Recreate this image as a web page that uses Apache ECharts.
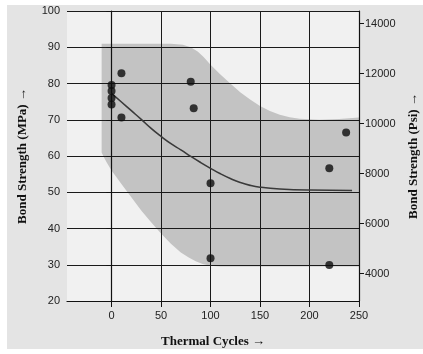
<!DOCTYPE html>
<html>
<head>
<meta charset="utf-8">
<script src="https://cdn.jsdelivr.net/npm/echarts@6/dist/echarts.min.js"></script>
<style>
  html, body { margin: 0; padding: 0; background: #ffffff; }
  #chart { width: 423px; height: 354px; }
</style>
</head>
<body>
<div id="chart"></div>
<script>
// ---- data ----
const xTicks = [0, 50, 100, 150, 200, 250];
const psiTicks = [4000, 6000, 8000, 10000, 12000, 14000];
const MPA_TO_PSI = 145.038;

// measured points: [thermal cycles, bond strength MPa]
const pointCycles = [0, 0, 0, 0, 10, 10, 80, 83, 100, 100, 220, 220, 237];
const pointMPa    = [79.6, 77.9, 76.0, 74.2, 82.8, 70.6, 80.5, 73.2, 52.5, 31.8, 56.6, 29.9, 66.5];

// fitted trend curve
const curveCycles = [0, 10, 20, 30, 40, 50, 60, 70, 80, 90, 100, 110, 120, 130, 140, 150, 170, 200, 243];
const curveMPa    = [77.3, 74.9, 72.5, 70.1, 67.6, 65.4, 63.4, 61.7, 59.9, 58.2, 56.6, 55.1, 53.8, 52.7, 51.9, 51.4, 50.9, 50.6, 50.5];

// shaded scatter band (upper edge left->right, lower edge right->left)
const bandUpperCycles = [-10, 60, 72, 80, 87, 93, 100, 110, 120, 130, 140, 150, 160, 170, 180, 190, 210, 230, 250];
const bandUpperMPa    = [91, 91, 90.7, 90, 88.8, 87.3, 85.2, 82.5, 80, 77.6, 75.6, 73.8, 72.4, 71.4, 70.7, 70.3, 70.0, 70.2, 70.6];
const bandLowerCycles = [250, 110, 100, 92, 85, 78, 70, 60, 50, 40, 30, 20, 10, 0, -5, -8, -10];
const bandLowerMPa    = [29.5, 29.5, 29.7, 30.2, 31.0, 32.0, 33.4, 35.8, 38.6, 41.7, 45.0, 48.6, 52.3, 56.0, 58.3, 59.8, 61.0];

// ---- build ----
const points = pointCycles.map((c, i) => [c, pointMPa[i]]);
const curve = curveCycles.map((c, i) => [c, curveMPa[i]]);
const bandPoly = bandUpperCycles.map((c, i) => [c, bandUpperMPa[i]])
  .concat(bandLowerCycles.map((c, i) => [c, bandLowerMPa[i]]));

const sans = '"Liberation Sans", Arial, sans-serif';
const serif = '"Liberation Serif", "Times New Roman", serif';
const tickLabel = { color: '#222', fontSize: 11, fontFamily: sans };
const nameStyle = { color: '#111', fontSize: 13, fontWeight: 'bold', fontFamily: serif };

const chart = echarts.init(document.getElementById('chart'), null, { renderer: 'canvas' });
chart.setOption({
  animation: false,
  backgroundColor: '#ffffff',
  graphic: [{
    type: 'rect', z: -100, silent: true,
    shape: { x: 7, y: 5, width: 416, height: 344 },
    style: { fill: '#e4e4e4' }
  }],
  grid: {
    left: 67, right: 64, top: 11, bottom: 53,
    outerBoundsMode: 'none', containLabel: false,
    show: true, backgroundColor: '#f1f1f1', borderWidth: 0
  },
  xAxis: {
    type: 'value', min: -45, max: 250, z: 5,
    name: 'Thermal Cycles →', nameLocation: 'middle', nameGap: 34, nameTextStyle: nameStyle,
    axisLine: { show: true, lineStyle: { color: '#111', width: 1.2 } },
    axisTick: { show: true, length: 6, customValues: xTicks, lineStyle: { color: '#111' } },
    axisLabel: { customValues: xTicks, margin: 9, ...tickLabel },
    splitLine: { show: true, lineStyle: { color: '#1a1a1a', width: 1 } }
  },
  yAxis: [{
    type: 'value', min: 20, max: 100, interval: 10, z: 5,
    name: 'Bond Strength (MPa) →', nameLocation: 'middle', nameGap: 38, nameTextStyle: nameStyle,
    axisLine: { show: true, lineStyle: { color: '#111', width: 1.2 } },
    axisTick: { show: true, length: 5, lineStyle: { color: '#111' } },
    axisLabel: { margin: 7, ...tickLabel },
    splitLine: { show: true, lineStyle: { color: '#1a1a1a', width: 1 } }
  }, {
    type: 'value', position: 'right', z: 5,
    min: 20 * MPA_TO_PSI, max: 100 * MPA_TO_PSI,
    name: 'Bond Strength (Psi) →', nameLocation: 'middle', nameGap: 48, nameTextStyle: nameStyle,
    axisLine: { show: true, lineStyle: { color: '#111', width: 1.2 } },
    axisTick: { show: true, length: 5, customValues: psiTicks, lineStyle: { color: '#111' } },
    axisLabel: { customValues: psiTicks, margin: 6, formatter: v => String(Math.round(v)), ...tickLabel },
    splitLine: { show: false }
  }],
  series: [{
    type: 'custom',
    z: 1,
    silent: true,
    data: [0],
    renderItem: function (params, api) {
      const pts = bandPoly.map(p => api.coord(p));
      return {
        type: 'polygon',
        shape: { points: pts },
        style: { fill: '#c3c3c3' }
      };
    }
  }, {
    type: 'line',
    data: curve,
    smooth: true,
    showSymbol: false,
    z: 6,
    lineStyle: { color: '#3a3a3a', width: 1.6 }
  }, {
    type: 'scatter',
    data: points,
    symbolSize: 8,
    z: 7,
    itemStyle: { color: '#0d0d0d' }
  }]
});
</script>
</body>
</html>
